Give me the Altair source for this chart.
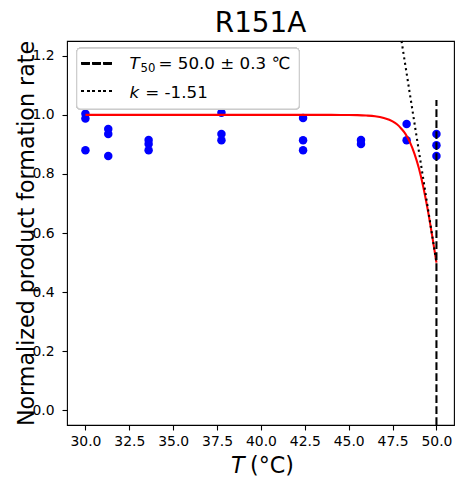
import altair as alt
import pandas as pd

# measured points (T in °C, normalized rate)
pt_T = [30.0, 30.0, 30.0,
        31.3, 31.3, 31.3,
        33.6, 33.6, 33.6,
        37.75, 37.75, 37.75,
        42.4, 42.4, 42.4,
        45.7, 45.7,
        48.3, 48.3,
        50.0, 50.0, 50.0]
pt_y = [1.004, 0.988, 0.880,
        0.952, 0.935, 0.861,
        0.915, 0.901, 0.880,
        1.007, 0.935, 0.914,
        0.989, 0.914, 0.880,
        0.915, 0.901,
        0.969, 0.914,
        0.935, 0.897, 0.861]

# fitted logistic curve
curve_T = [30, 40, 43, 44, 45, 45.5, 46, 46.5, 47, 47.5, 47.75, 48, 48.25,
           48.5, 48.75, 49, 49.25, 49.5, 49.75, 50]
curve_y = [1.0, 1.0, 0.9999, 0.9998, 0.9995, 0.999, 0.9976, 0.995, 0.989,
           0.978, 0.968, 0.953, 0.934, 0.906, 0.868, 0.819, 0.756, 0.680,
           0.593, 0.5]

# tangent at T50 (dotted)
tan_T = [48.01, 50.0]
tan_y = [1.25, 0.5]

# T50 vertical marker (dashed)
t50_T = [50.0, 50.0]
t50_y = [-0.05, 1.05]

x_ticks = [30.0, 32.5, 35.0, 37.5, 40.0, 42.5, 45.0, 47.5, 50.0]
y_ticks = [0.0, 0.2, 0.4, 0.6, 0.8, 1.0, 1.2]

title_text = "R151A"
y_title = "Normalized product formation rate"
leg1_main = "= 50.0 ± 0.3 ℃"
leg2_main = "= -1.51"

FONT = "DejaVu Sans"
W, H = 387, 384

pts = pd.DataFrame({"T": pt_T, "y": pt_y})
curve = pd.DataFrame({"T": curve_T, "y": curve_y})
tan = pd.DataFrame({"T": tan_T, "y": tan_y})
t50 = pd.DataFrame({"T": t50_T, "y": t50_y})

xs = alt.Scale(domain=[28.95, 51.0], nice=False, zero=False)
ys = alt.Scale(domain=[-0.05, 1.25], nice=False, zero=False)

x_axis = alt.Axis(values=x_ticks, format=".1f", title=None, grid=False,
                  domain=False, tickColor="black", tickSize=5, tickWidth=1.1,
                  labelColor="black", labelFontSize=13.9, labelFont=FONT,
                  labelPadding=4, labelFlush=False)
y_axis = alt.Axis(values=y_ticks, format=".1f",
                  title=y_title, grid=False,
                  domain=False, tickColor="black", tickSize=5, tickWidth=1.1,
                  labelColor="black", labelFontSize=13.9, labelFont=FONT,
                  labelPadding=8, titleFont=FONT, titleFontSize=22.2,
                  titleFontWeight="normal", titleColor="black",
                  titleX=-34, titleY=H / 2, titleBaseline="alphabetic",
                  titleAngle=270)

points = alt.Chart(pts).mark_circle(color="blue", opacity=1, size=72).encode(
    x=alt.X("T:Q", scale=xs, axis=x_axis),
    y=alt.Y("y:Q", scale=ys, axis=y_axis),
)

fit = alt.Chart(curve).mark_line(color="red", strokeWidth=2.08,
                                 interpolate="monotone").encode(
    x=alt.X("T:Q", scale=xs), y=alt.Y("y:Q", scale=ys))

tangent = alt.Chart(tan).mark_line(color="black", strokeWidth=2.08,
                                   strokeDash=[2.1, 3.4]).encode(
    x=alt.X("T:Q", scale=xs), y=alt.Y("y:Q", scale=ys))

vline = alt.Chart(t50).mark_line(color="black", strokeWidth=2.08,
                                 strokeDash=[7.7, 3.3]).encode(
    x=alt.X("T:Q", scale=xs), y=alt.Y("y:Q", scale=ys))

# legend box and entries
leg_box = alt.Chart(pts).mark_rect(fill="white", fillOpacity=0.8,
                                   stroke="#cccccc", strokeWidth=1.1,
                                   cornerRadius=4).encode(
    x=alt.value(9.7), x2=alt.value(232.3), y=alt.value(7.3), y2=alt.value(68))
leg_dash = alt.Chart(pts).mark_rule(color="black", strokeWidth=2.08,
                                    strokeDash=[7.7, 3.3]).encode(
    x=alt.value(14.7), x2=alt.value(46.3), y=alt.value(22.3))
leg_dot = alt.Chart(pts).mark_rule(color="black", strokeWidth=2.08,
                                   strokeDash=[2.1, 3.4]).encode(
    x=alt.value(14.7), x2=alt.value(46.3), y=alt.value(50))


def txt(s, x, y, size=16.7, style="normal", align="left"):
    return alt.Chart(pd.DataFrame({"t": [s]})).mark_text(
        font=FONT, fontSize=size, fontStyle=style, align=align,
        baseline="alphabetic", color="black").encode(
        x=alt.value(x), y=alt.value(y), text="t:N")


texts = [
    txt("T", 62.5, 28.3, style="italic"),
    txt("50", 73.5, 30.8, size=11.7),
    txt(leg1_main, 91.5, 28.3),
    txt("k", 62.5, 57, style="italic"),
    txt(leg2_main, 78.3, 57),
    txt("T", 164, 432, size=22.2, style="italic"),
    txt("(°C)", 183, 432, size=22.2),
    txt(title_text, W / 2, -8.7, size=27.8, align="center"),
]

chart = alt.layer(points, fit, tangent, vline, leg_box, leg_dash, leg_dot,
                  *texts).properties(
    width=W, height=H,
    padding={"left": 59, "top": 33, "right": 2, "bottom": 54},
    autosize=alt.AutoSizeParams(type="none"),
).configure(font=FONT).configure_view(stroke="black", strokeWidth=1.1)

chart.save("out.html", embed_options={"renderer": "svg", "actions": False})
